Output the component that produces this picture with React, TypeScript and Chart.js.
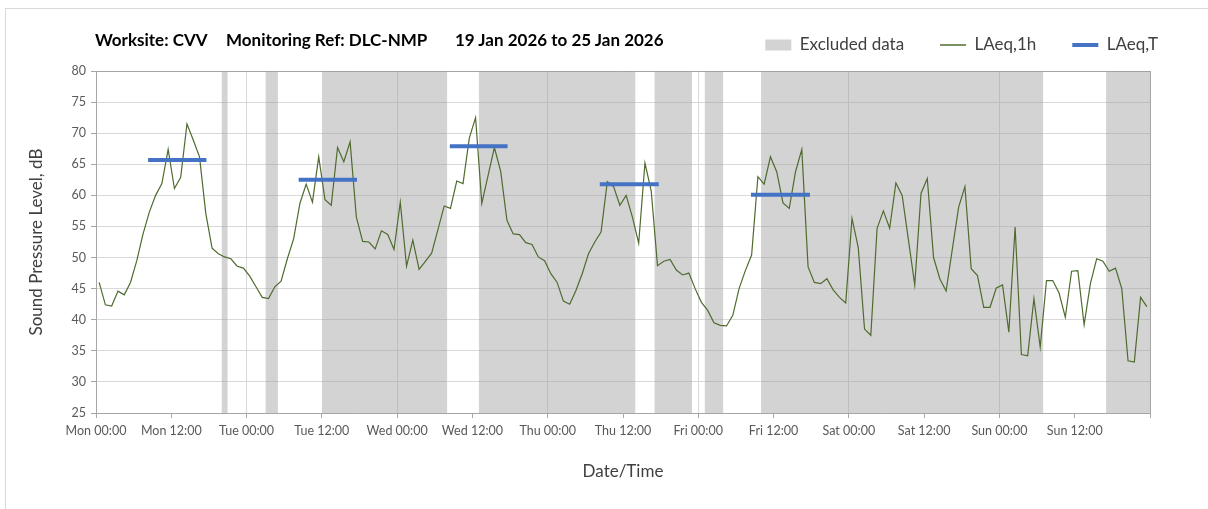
import React, { useEffect, useRef } from 'react';
import { Chart, registerables } from 'chart.js';

Chart.register(...registerables);

// ---- Data ----
const tickLabels = [
  'Mon 00:00', 'Mon 12:00', 'Tue 00:00', 'Tue 12:00', 'Wed 00:00', 'Wed 12:00', 'Thu 00:00',
  'Thu 12:00', 'Fri 00:00', 'Fri 12:00', 'Sat 00:00', 'Sat 12:00', 'Sun 00:00', 'Sun 12:00',
];

// Hourly LAeq,1h values (dB), one array per day, 00:00..23:00
const mon = [46.0, 42.4, 42.2, 44.6, 44.0, 46.0, 49.5, 53.8, 57.3, 60.0, 61.9, 67.4, 61.1, 62.9, 71.5, 68.9, 66.2, 57.1, 51.5, 50.6, 50.1, 49.8, 48.6, 48.3];
const tue = [47.0, 45.3, 43.6, 43.4, 45.3, 46.2, 49.8, 53.0, 58.7, 61.8, 58.9, 66.2, 59.3, 58.4, 67.7, 65.4, 68.6, 56.5, 52.6, 52.5, 51.4, 54.3, 53.7, 51.3];
const wed = [58.9, 48.6, 52.8, 48.1, 49.4, 50.7, 54.5, 58.3, 57.9, 62.3, 61.9, 69.2, 72.5, 58.7, 63.2, 67.7, 63.9, 56.0, 53.8, 53.7, 52.4, 52.1, 50.1, 49.5];
const thu = [47.4, 46.0, 43.0, 42.5, 44.7, 47.4, 50.6, 52.5, 54.1, 62.2, 61.4, 58.4, 60.0, 56.5, 52.3, 65.2, 60.7, 48.7, 49.4, 49.7, 48.0, 47.2, 47.5, 45.0];
const fri = [42.8, 41.5, 39.5, 39.1, 39.0, 40.7, 45.0, 47.9, 50.4, 63.0, 61.8, 66.2, 63.8, 58.8, 57.9, 63.8, 67.4, 48.5, 46.0, 45.8, 46.6, 44.8, 43.6, 42.7];
const sat = [56.3, 51.6, 38.5, 37.5, 54.7, 57.5, 54.7, 62.0, 60.0, 52.8, 45.6, 60.3, 62.7, 50.0, 46.6, 44.6, 51.4, 58.1, 61.4, 48.2, 47.1, 42.0, 42.0, 45.1];
const sun = [45.6, 38.0, 54.9, 34.4, 34.2, 43.4, 35.6, 46.3, 46.3, 44.3, 40.4, 47.8, 47.9, 39.2, 45.8, 49.8, 49.4, 47.8, 48.3, 45.0, 33.4, 33.2, 43.6, 42.1];

// Excluded data periods (hours from Mon 00:00)
const excludedStart = [20, 27, 36, 61, 89, 97, 106, 161];
const excludedEnd = [21, 29, 56, 86, 95, 100, 151, 168];

// LAeq,T periods (hours from Mon 00:00) and levels (dB)
const laeqTStart = [8.3, 32.3, 56.4, 80.3, 104.4];
const laeqTEnd = [17.6, 41.6, 65.6, 89.7, 113.8];
const laeqTValues = [65.7, 62.5, 67.9, 61.8, 60.1];

const yMin = 25;
const yMax = 80;
const xMax = 168;

const FONT = 'Lato, "Open Sans", sans-serif';

export default function App() {
  const canvasRef = useRef<HTMLCanvasElement | null>(null);

  useEffect(() => {
    if (!canvasRef.current) return;
    const hourly = [...mon, ...tue, ...wed, ...thu, ...fri, ...sat, ...sun];
    const lineData = hourly.map((v, i) => ({ x: i + 0.5, y: v }));
    const bandData: { x: number; y: number | null }[] = [];
    excludedStart.forEach((s, i) => {
      bandData.push({ x: s, y: yMax }, { x: excludedEnd[i], y: yMax }, { x: excludedEnd[i], y: null });
    });
    const tData: { x: number; y: number | null }[] = [];
    laeqTStart.forEach((s, i) => {
      tData.push({ x: s, y: laeqTValues[i] }, { x: laeqTEnd[i], y: laeqTValues[i] }, { x: laeqTEnd[i], y: null });
    });

    const legendStyles = ['rect', 'line', 'line'];
    const legendWidths = [0, 1.3, 4];

    const chart = new Chart(canvasRef.current, {
      type: 'line',
      data: {
        datasets: [
          {
            label: 'Excluded data',
            data: bandData,
            borderColor: 'rgba(0,0,0,0)',
            borderWidth: 0,
            backgroundColor: 'rgba(157,157,157,0.45)',
            fill: 'start',
            pointRadius: 0,
            spanGaps: false,
          },
          {
            label: 'LAeq,T',
            data: tData,
            borderColor: '#4472c4',
            backgroundColor: '#4472c4',
            borderWidth: 4,
            pointRadius: 0,
            fill: false,
            spanGaps: false,
          },
          {
            label: 'LAeq,1h',
            data: lineData,
            borderColor: '#4f6b2f',
            backgroundColor: '#4f6b2f',
            borderWidth: 1.2,
            pointRadius: 0,
            fill: false,
            tension: 0,
          },
        ],
      },
      options: {
        animation: false,
        responsive: false,
        events: [],
        layout: { padding: { top: 0.5, right: 14, bottom: 0, left: 0 } },
        plugins: {
          filler: { propagate: false, drawTime: 'beforeDatasetsDraw' },
          tooltip: { enabled: false },
          title: { display: false },
          legend: {
            position: 'top',
            align: 'end',
            labels: {
              usePointStyle: true,
              pointStyleWidth: 26,
              boxHeight: 11,
              padding: 36,
              color: '#404040',
              font: { family: FONT, size: 17 },
              generateLabels: (c: any) =>
                [0, 2, 1].map((di, k) => {
                  const ds = c.data.datasets[di];
                  return {
                    text: ds.label,
                    fillStyle: ds.backgroundColor,
                    strokeStyle: ds.borderColor === 'rgba(0,0,0,0)' ? ds.backgroundColor : ds.borderColor,
                    lineWidth: legendWidths[k],
                    pointStyle: legendStyles[k],
                    hidden: false,
                    datasetIndex: di,
                    fontColor: '#404040',
                  };
                }),
            },
          },
        },
        scales: {
          x: {
            type: 'linear',
            position: 'bottom',
            min: 0,
            max: xMax,
            afterFit: (s: any) => { s.height = 96; },
            ticks: {
              stepSize: 12,
              autoSkip: false,
              maxRotation: 0,
              padding: 5,
              color: '#595959',
              font: { family: FONT, size: 12.5 },
              callback: (v: any) => tickLabels[Math.round(Number(v) / 12)] ?? '',
            },
            grid: {
              color: (ctx: any) => {
                const v = ctx.tick ? ctx.tick.value : -1;
                return v > 0 && v < xMax && v % 24 === 0 ? '#d9d9d9' : 'rgba(0,0,0,0)';
              },
              tickColor: '#a6a6a6',
              tickLength: 5,
            },
            border: { display: true, color: '#a6a6a6', width: 1 },
            title: {
              display: true,
              text: 'Date/Time',
              color: '#404040',
              font: { family: FONT, size: 17 },
              padding: { top: 0, bottom: 26.8 },
            },
          },
          xTop: {
            type: 'linear',
            position: 'top',
            min: 0,
            max: xMax,
            afterFit: (s: any) => { s.height = 7.5; },
            ticks: { display: false },
            grid: { drawOnChartArea: false, drawTicks: false },
            border: { display: true, color: '#a6a6a6', width: 1 },
          },
          y: {
            type: 'linear',
            position: 'left',
            min: yMin,
            max: yMax,
            afterFit: (s: any) => { s.width = 96; },
            ticks: {
              stepSize: 5,
              padding: 5,
              color: '#595959',
              font: { family: FONT, size: 12.5 },
            },
            grid: { color: '#d9d9d9', tickColor: '#a6a6a6', tickLength: 5 },
            border: { display: true, color: '#a6a6a6', width: 1 },
            title: {
              display: true,
              text: 'Sound Pressure Level, dB',
              color: '#404040',
              font: { family: FONT, size: 17 },
              padding: { top: 26.8, bottom: 0 },
            },
          },
          yRight: {
            type: 'linear',
            position: 'right',
            min: yMin,
            max: yMax,
            afterFit: (s: any) => { s.width = 44; },
            ticks: { display: false },
            grid: { drawOnChartArea: false, drawTicks: false },
            border: { display: true, color: '#a6a6a6', width: 1 },
          },
        },
      } as any,
    });
    return () => chart.destroy();
  }, []);

  const titleStyle: React.CSSProperties = {
    position: 'absolute',
    top: 30,
    fontFamily: FONT,
    fontWeight: 700,
    fontSize: 17,
    lineHeight: '20px',
    color: '#000',
    whiteSpace: 'nowrap',
  };

  return (
    <div style={{ position: 'absolute', left: 0, top: 0, width: 1208, height: 509, overflow: 'hidden', background: '#fff' }}>
      <div style={{ position: 'absolute', left: 5, top: 8, width: 1300, height: 700, border: '1px solid #d9d9d9' }} />
      <canvas ref={canvasRef} width={1208} height={509} style={{ position: 'absolute', left: 0, top: 0, width: 1208, height: 509 }} />
      <span style={{ ...titleStyle, left: 95 }}>Worksite: CVV</span>
      <span style={{ ...titleStyle, left: 226 }}>Monitoring Ref: DLC-NMP</span>
      <span style={{ ...titleStyle, left: 455 }}>19 Jan 2026 to 25 Jan 2026</span>
    </div>
  );
}
